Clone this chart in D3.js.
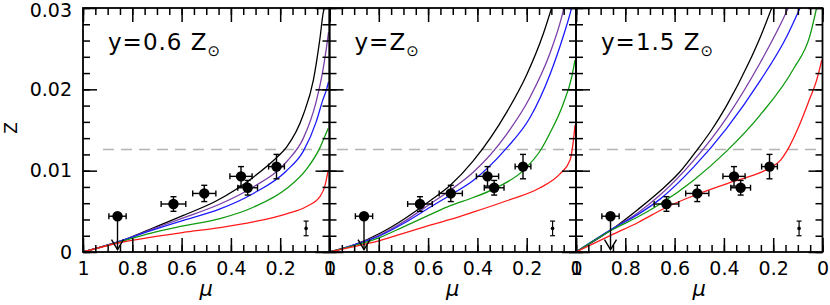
<!DOCTYPE html>
<html><head><meta charset="utf-8">
<script src="https://cdn.jsdelivr.net/npm/d3@7"></script>
<style>
html,body{margin:0;padding:0;background:#fff;}
svg{display:block;}
text{font-family:"DejaVu Sans",sans-serif;fill:#000;}
</style></head>
<body>
<svg id="c" width="830" height="305"></svg>
<script>
(function(){
// ---------------- DATA ----------------
const panelLabels = ["y=0.6 Z", "y=Z", "y=1.5 Z"];
const xTickValues = [1, 0.8, 0.6, 0.4, 0.2, 0];
const xTickLabels = ["1", "0.8", "0.6", "0.4", "0.2", "0"];
const xMinorValues = d3.range(0, 21).map(i => i * 0.05);
const yTickValues = [0, 0.01, 0.02, 0.03];
const yTickLabels = ["0", "0.01", "0.02", "0.03"];
const yMinorValues = d3.range(0, 16).map(i => i * 0.002);
const zSun = 0.0126;

// observations (same in every panel)
const obsMu    = [0.633, 0.508, 0.359, 0.332, 0.215];
const obsZ     = [0.0059, 0.0072, 0.0093, 0.0079, 0.0105];
const obsMuErr = [0.050, 0.047, 0.045, 0.040, 0.032];
const obsZErr  = [0.0009, 0.0010, 0.0012, 0.0009, 0.0015];
// upper limit
const ulMu = 0.86, ulZ = 0.0044, ulMuErr = 0.035, ulTipZ = 0.0003;
// representative error
const repMu = 0.095, repZ = 0.0029, repZErr = 0.0009;

const seriesNames = ["black", "purple", "blue", "green", "red"];
const seriesColors = ["#000000", "#7b3fa8", "#1a1aff", "#109a10", "#ff1a1a"];

// model curves [mu, Z], panel 1 (y = 0.6 Zsun)
const p1Black  = [[1,0],[0.843,0.0014],[0.728,0.0028],[0.593,0.0045],[0.458,0.0063],[0.309,0.0092],[0.208,0.0118],[0.174,0.0129],[0.106,0.0169],[0.065,0.0212],[0.039,0.0262],[0.025,0.0295],[0.021,0.030]];
const p1Purple = [[1,0],[0.843,0.0014],[0.728,0.0027],[0.593,0.0042],[0.444,0.0059],[0.309,0.0080],[0.174,0.0111],[0.106,0.0140],[0.054,0.0185],[0.027,0.0223],[0.012,0.0252],[0.004,0.0270]];
const p1Blue   = [[1,0],[0.843,0.0014],[0.728,0.0026],[0.593,0.0039],[0.444,0.0053],[0.309,0.0072],[0.174,0.0100],[0.106,0.0124],[0.054,0.0160],[0.027,0.0187],[0.012,0.0200],[0.004,0.0209]];
const p1Green  = [[1,0],[0.843,0.0013],[0.728,0.0023],[0.593,0.0032],[0.444,0.0041],[0.309,0.0055],[0.174,0.0078],[0.093,0.0102],[0.039,0.0128],[0.018,0.0143],[0.005,0.0152]];
const p1Red    = [[1,0],[0.843,0.0012],[0.728,0.0018],[0.593,0.0024],[0.444,0.0030],[0.309,0.0037],[0.174,0.0047],[0.093,0.0056],[0.039,0.0068],[0.018,0.0082],[0.005,0.0101]];
// panel 2 (y = Zsun)
const p2Black  = [[1,0],[0.897,0.0009],[0.795,0.0023],[0.70,0.0040],[0.592,0.0063],[0.51,0.0082],[0.417,0.0112],[0.281,0.0172],[0.2,0.0218],[0.133,0.0268],[0.099,0.030]];
const p2Purple = [[1,0],[0.897,0.0009],[0.795,0.0021],[0.70,0.0037],[0.592,0.0059],[0.51,0.0076],[0.417,0.0098],[0.281,0.0145],[0.187,0.0190],[0.106,0.0244],[0.058,0.0289],[0.049,0.030]];
const p2Blue   = [[1,0],[0.897,0.0009],[0.795,0.0020],[0.70,0.0035],[0.592,0.0055],[0.51,0.0070],[0.417,0.0088],[0.281,0.0128],[0.187,0.0165],[0.106,0.0218],[0.052,0.0265],[0.024,0.0293],[0.018,0.030]];
const p2Green  = [[1,0],[0.897,0.0008],[0.795,0.0018],[0.70,0.0031],[0.592,0.0046],[0.51,0.0057],[0.417,0.0067],[0.33,0.0078],[0.211,0.0101],[0.142,0.0126],[0.106,0.0146],[0.052,0.0182],[0.0175,0.0215],[0.004,0.0236]];
const p2Red    = [[1,0],[0.897,0.0007],[0.795,0.0014],[0.70,0.0023],[0.592,0.0033],[0.51,0.0040],[0.417,0.0049],[0.281,0.0063],[0.146,0.0079],[0.065,0.0096],[0.024,0.0113],[0.011,0.0136],[0.004,0.0156]];
// panel 3 (y = 1.5 Zsun)
const p3Black  = [[1,0],[0.849,0.0029],[0.75,0.0052],[0.659,0.0075],[0.58,0.0098],[0.51,0.0125],[0.45,0.0150],[0.389,0.0180],[0.30,0.0232],[0.25,0.0266],[0.206,0.030]];
const p3Purple = [[1,0],[0.849,0.0029],[0.75,0.0048],[0.659,0.0070],[0.524,0.0112],[0.389,0.0165],[0.254,0.0232],[0.159,0.0287],[0.139,0.030]];
const p3Blue   = [[1,0],[0.849,0.0029],[0.75,0.0046],[0.659,0.0065],[0.524,0.0104],[0.389,0.0152],[0.254,0.0210],[0.145,0.0265],[0.091,0.030]];
const p3Green  = [[1,0],[0.849,0.0028],[0.75,0.0043],[0.659,0.0059],[0.524,0.0088],[0.389,0.0124],[0.254,0.0168],[0.118,0.0225],[0.051,0.0266],[0.024,0.030]];
const p3Red    = [[1,0],[0.849,0.0022],[0.75,0.0036],[0.633,0.0055],[0.508,0.0071],[0.359,0.0087],[0.25,0.0098],[0.21,0.0104],[0.17,0.0113],[0.145,0.0124],[0.091,0.0158],[0.051,0.0189],[0.024,0.0211],[0.003,0.0236]];

const panelCurves = [
  [p1Black, p1Purple, p1Blue, p1Green, p1Red],
  [p2Black, p2Purple, p2Blue, p2Green, p2Red],
  [p3Black, p3Purple, p3Blue, p3Green, p3Red]
];

// ---------------- LAYOUT ----------------
const svg = d3.select("#c");
const yTop = 8, yBottom = 252;
const panelLeft = [83, 329.5, 576];
const panelW = 246.5;
const majorLen = 14, minorLen = 7;

const y = d3.scaleLinear().domain([0, 0.03]).range([yBottom, yTop]);

svg.append("defs").selectAll("clipPath").data(panelLeft).join("clipPath")
  .attr("id", (d, i) => "clip" + i)
  .append("rect").attr("x", d => d).attr("y", yTop).attr("width", panelW).attr("height", yBottom - yTop);

// dashed solar line
svg.append("line")
  .attr("x1", panelLeft[0] + 20).attr("x2", panelLeft[2] + panelW - 4)
  .attr("y1", y(zSun)).attr("y2", y(zSun))
  .attr("stroke", "#b4b4b4").attr("stroke-width", 1.4).attr("stroke-dasharray", "11,7");

panelLeft.forEach((L, p) => {
  const x = d3.scaleLinear().domain([1, 0]).range([L, L + panelW]);
  const g = svg.append("g");

  // curves
  const line = d3.line().x(d => x(d[0])).y(d => y(d[1])).curve(d3.curveMonotoneX);
  g.append("g").attr("clip-path", `url(#clip${p})`)
    .selectAll("path").data(panelCurves[p]).join("path")
    .attr("d", line).attr("fill", "none")
    .attr("stroke", (d, i) => seriesColors[i]).attr("stroke-width", 1.3);

  // axes
  const styleAxis = sel => { sel.select(".domain").remove(); sel.selectAll("line").attr("stroke", "#000").attr("stroke-width", 1.5); };
  g.append("g").attr("transform", `translate(0,${yBottom})`)
    .call(d3.axisBottom(x).tickValues(xMinorValues).tickSize(-minorLen).tickSizeOuter(0).tickFormat(""))
    .call(styleAxis);
  const bx = g.append("g").attr("transform", `translate(0,${yBottom})`)
    .call(d3.axisBottom(x).tickValues(xTickValues).tickSize(-majorLen).tickSizeOuter(0).tickPadding(10)
      .tickFormat((d, i) => xTickLabels[i]))
    .call(styleAxis);
  bx.selectAll("text").attr("font-size", 19).attr("font-family", "DejaVu Sans").attr("fill", "#000");
  g.append("g").attr("transform", `translate(0,${yTop})`)
    .call(d3.axisTop(x).tickValues(xMinorValues).tickSize(-minorLen).tickSizeOuter(0).tickFormat(""))
    .call(styleAxis);
  g.append("g").attr("transform", `translate(0,${yTop})`)
    .call(d3.axisTop(x).tickValues(xTickValues).tickSize(-majorLen).tickSizeOuter(0).tickFormat(""))
    .call(styleAxis);
  g.append("g").attr("transform", `translate(${L},0)`)
    .call(d3.axisLeft(y).tickValues(yMinorValues).tickSize(-minorLen).tickSizeOuter(0).tickFormat(""))
    .call(styleAxis);
  const ly = g.append("g").attr("transform", `translate(${L},0)`)
    .call(d3.axisLeft(y).tickValues(yTickValues).tickSize(-majorLen).tickSizeOuter(0).tickPadding(11)
      .tickFormat((d, i) => p === 0 ? yTickLabels[i] : ""))
    .call(styleAxis);
  ly.selectAll("text").attr("font-size", 19).attr("font-family", "DejaVu Sans").attr("fill", "#000");
  ly.selectAll(".tick").filter(d => d === 0.03).select("text").attr("dy", "0.45em");
  g.append("g").attr("transform", `translate(${L + panelW},0)`)
    .call(d3.axisRight(y).tickValues(yMinorValues).tickSize(-minorLen).tickSizeOuter(0).tickFormat(""))
    .call(styleAxis);
  g.append("g").attr("transform", `translate(${L + panelW},0)`)
    .call(d3.axisRight(y).tickValues(yTickValues).tickSize(-majorLen).tickSizeOuter(0).tickFormat(""))
    .call(styleAxis);

  // frame
  g.append("rect").attr("x", L).attr("y", yTop).attr("width", panelW).attr("height", yBottom - yTop)
    .attr("fill", "none").attr("stroke", "#000").attr("stroke-width", 1.8);

  // observations
  const cap = 3;
  const obs = g.append("g").attr("stroke", "#000").attr("stroke-width", 1.4);
  obsMu.forEach((m, i) => {
    const cx = x(m), cy = y(obsZ[i]);
    const x0 = x(m + obsMuErr[i]), x1 = x(m - obsMuErr[i]);
    const y0 = y(obsZ[i] - obsZErr[i]), y1 = y(obsZ[i] + obsZErr[i]);
    obs.append("line").attr("x1", x0).attr("x2", x1).attr("y1", cy).attr("y2", cy);
    obs.append("line").attr("x1", x0).attr("x2", x0).attr("y1", cy - cap).attr("y2", cy + cap);
    obs.append("line").attr("x1", x1).attr("x2", x1).attr("y1", cy - cap).attr("y2", cy + cap);
    obs.append("line").attr("x1", cx).attr("x2", cx).attr("y1", y0).attr("y2", y1);
    obs.append("line").attr("x1", cx - cap).attr("x2", cx + cap).attr("y1", y0).attr("y2", y0);
    obs.append("line").attr("x1", cx - cap).attr("x2", cx + cap).attr("y1", y1).attr("y2", y1);
    obs.append("circle").attr("cx", cx).attr("cy", cy).attr("r", 5.2).attr("fill", "#000").attr("stroke", "none");
  });
  {
    const cx = x(ulMu), cy = y(ulZ), x0 = x(ulMu + ulMuErr), x1 = x(ulMu - ulMuErr), ty = y(ulTipZ);
    obs.append("line").attr("x1", x0).attr("x2", x1).attr("y1", cy).attr("y2", cy);
    obs.append("line").attr("x1", x0).attr("x2", x0).attr("y1", cy - cap).attr("y2", cy + cap);
    obs.append("line").attr("x1", x1).attr("x2", x1).attr("y1", cy - cap).attr("y2", cy + cap);
    obs.append("line").attr("x1", cx).attr("x2", cx).attr("y1", cy).attr("y2", ty);
    obs.append("path").attr("d", `M${cx - 6},${ty - 10}L${cx},${ty}L${cx + 6},${ty - 10}`).attr("fill", "none");
    obs.append("circle").attr("cx", cx).attr("cy", cy).attr("r", 5.2).attr("fill", "#000").attr("stroke", "none");
  }
  {
    const cx = x(repMu), y0 = y(repZ - repZErr), y1 = y(repZ + repZErr);
    obs.append("line").attr("x1", cx).attr("x2", cx).attr("y1", y0).attr("y2", y1).attr("stroke-width", 1.2);
    obs.append("line").attr("x1", cx - 2.5).attr("x2", cx + 2.5).attr("y1", y0).attr("y2", y0).attr("stroke-width", 1.2);
    obs.append("line").attr("x1", cx - 2.5).attr("x2", cx + 2.5).attr("y1", y1).attr("y2", y1).attr("stroke-width", 1.2);
    obs.append("circle").attr("cx", cx).attr("cy", y(repZ)).attr("r", 1.8).attr("fill", "#000").attr("stroke", "none");
  }

  // panel label
  const t = g.append("text").attr("x", L + 25).attr("y", 50).attr("font-size", 23).attr("letter-spacing", 1);
  t.append("tspan").text(panelLabels[p]);
  t.append("tspan").attr("dy", 6).attr("font-size", 15).text("\u2299");

  // mu label
  g.append("text").attr("x", L + panelW / 2).attr("y", 296).attr("text-anchor", "middle")
    .attr("font-family", "DejaVu Serif").attr("font-style", "italic").attr("font-size", 21).text("\u03bc");
});

svg.append("text").attr("transform", "translate(17,128) rotate(-90)").attr("text-anchor", "middle")
  .attr("font-size", 17).text("Z");
})();
</script>
</body></html>
